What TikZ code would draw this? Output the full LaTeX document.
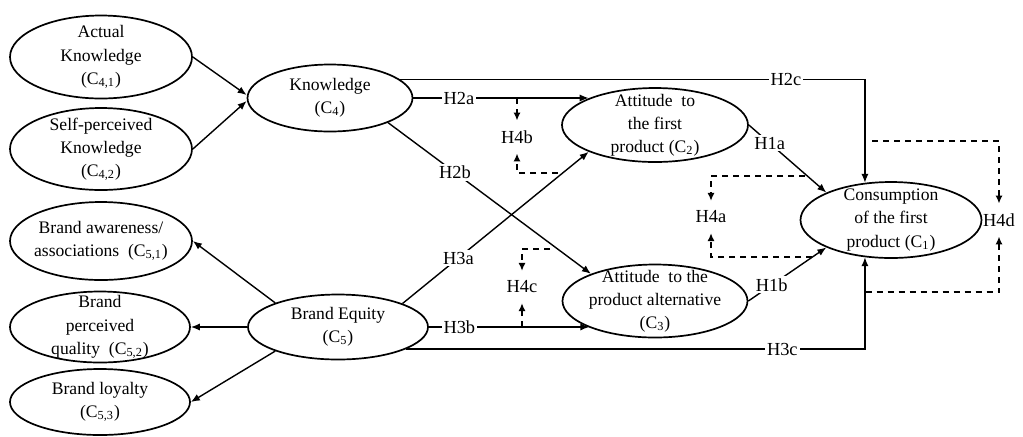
\documentclass[tikz,border=0pt]{standalone}
\usepackage{fontspec}
\setmainfont{Liberation Serif}
\usetikzlibrary{shapes.geometric,arrows.meta,calc}
\begin{document}
\begin{tikzpicture}[x=0.5pt,y=-0.5pt,
  oval/.style={ellipse,draw,line width=0.85pt,inner sep=0pt},
  txt/.style={align=center,font=\fontsize{8.8}{11.6}\selectfont,inner sep=0pt},
  lbl/.style={fill=white,inner sep=1pt,font=\fontsize{9.2}{11}\selectfont},
  modlbl/.style={inner sep=1pt,outer sep=4pt,font=\fontsize{9.2}{11}\selectfont},
  con/.style={line width=0.7pt,-{Latex[length=4.5pt,width=3.6pt]}},
  mod/.style={line width=1pt,dash pattern=on 3pt off 2.5pt,-{Latex[length=4pt,width=3.6pt]}},
]
\useasboundingbox (0,0) rectangle (1023,436);

% ellipses
\node[oval,minimum width=91pt,minimum height=41.5pt,
  label={[txt]center:{Actual\\Knowledge\\(C\textsubscript{4,1})}}] (ak) at (101,57) {};
\node[oval,minimum width=91pt,minimum height=41pt,
  label={[txt]center:{Self-perceived\\Knowledge\\(C\textsubscript{4,2})}}] (sk) at (101,149) {};
\node[oval,minimum width=91pt,minimum height=39pt,
  label={[txt]center:{Brand awareness/\\associations\enspace(C\textsubscript{5,1})}}] (ba) at (101,241) {};
\node[oval,minimum width=90pt,minimum height=35.5pt,
  label={[txt]center:{Brand\\perceived\\quality\enspace(C\textsubscript{5,2})}}] (bp) at (100,327) {};
\node[oval,minimum width=90pt,minimum height=33pt,
  label={[txt]center:{Brand loyalty\\(C\textsubscript{5,3})}}] (bl) at (100,402) {};
\node[oval,minimum width=82.5pt,minimum height=33.5pt,
  label={[txt]center:{Knowledge\\(C\textsubscript{4})}}] (kn) at (330,98) {};
\node[oval,minimum width=90pt,minimum height=32.5pt,
  label={[txt]center:{Brand Equity\\(C\textsubscript{5})}}] (be) at (338,327) {};
\node[oval,minimum width=93pt,minimum height=37pt,
  label={[txt]center:{Attitude\enspace to\\the first\\product (C\textsubscript{2})}}] (af) at (655,125) {};
\node[oval,minimum width=92.5pt,minimum height=36.5pt,
  label={[txt]center:{Attitude\enspace to the\\product alternative\\(C\textsubscript{3})}}] (aa) at (655,301) {};
\node[oval,minimum width=90.5pt,minimum height=38pt,
  label={[txt]center:{Consumption\\of the first\\product (C\textsubscript{1})}}] (co) at (891,220) {};

% measurement model arrows
\draw[con] (ak.east) -- ([yshift=1.5pt]kn.west);
\draw[con] (sk.east) -- ([yshift=-1.5pt]kn.west);
\draw[con] (be.159) -- (ba.east);
\draw[con] (be.west) -- (bp.east);
\draw[con] (be.201) -- (bl.east);

% structural paths
\draw[con] (kn.east) -- node[lbl,pos=0.26]{H2a} (kn.east -| af.158);
\draw[con] (kn.15) -- node[lbl,pos=0.83]{H2c} (kn.15 -| co.125) -- (co.125);
\draw[con] (kn.-23) -- node[lbl,pos=0.33]{H2b} (aa.157);
\draw[con] (be.20) -- node[lbl,pos=0.3]{H3a} (af.202);
\draw[con] (be.east) -- node[lbl,pos=0.19]{H3b} (be.east -| aa.202);
\draw[con] (be.-18) -- node[lbl,pos=0.82]{H3c} (be.-18 -| co.235) -- (co.235);
\draw[con] (af.east) -- node[lbl,pos=0.27]{H1a} (co.157);
\draw[con] (aa.east) -- node[lbl,pos=0.3]{H1b} (co.203);

% moderators
\coordinate (m2a) at (517,98);
\coordinate (m3a) at (558,173);
\coordinate (m2b) at (550,249);
\coordinate (m3b) at (522,327);
\coordinate (m1a) at (805,176);
\coordinate (m1b) at (812,257);
\coordinate (m2c) at (872,141);
\coordinate (m3c) at (865.5,292);

\node[modlbl] (h4b) at (517,137) {H4b};
\node[modlbl] (h4c) at (522,287) {H4c};
\node[modlbl] (h4a) at (711,217) {H4a};
\node[modlbl] (h4d) at (999,220) {H4d};

\draw[mod] (m2a) -- (h4b.north);
\draw[mod] (m3a) -| (h4b.south);
\draw[mod] (m2b) -| (h4c.north);
\draw[mod] (m3b) -- (h4c.south);
\draw[mod] (m1a) -| (h4a.north);
\draw[mod] (m1b) -| (h4a.south);
\draw[mod] (m2c) -| (h4d.north);
\draw[mod] (m3c) -| (h4d.south);
\end{tikzpicture}
\end{document}
